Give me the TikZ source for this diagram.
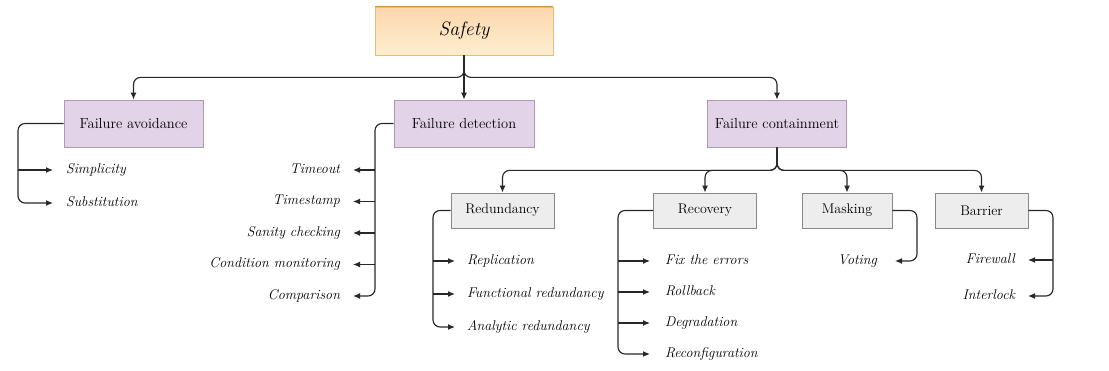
\documentclass[tikz,border=0pt]{standalone}
\usetikzlibrary{arrows.meta,calc}

\definecolor{lineink}{RGB}{40,40,40}
\definecolor{purplefill}{RGB}{226,211,232}
\definecolor{purpleedge}{RGB}{170,155,176}
\definecolor{grayfill}{RGB}{237,237,237}
\definecolor{grayedge}{RGB}{135,135,135}
\definecolor{safetytop}{RGB}{253,214,172}
\definecolor{safetybottom}{RGB}{253,238,208}
\definecolor{safetyedge}{RGB}{228,190,120}
\definecolor{safetyrim}{RGB}{212,158,40}

\begin{document}
\begin{tikzpicture}[x=1pt,y=-1pt,
  maintxt/.style={font=\fontsize{14.5}{17}\selectfont},
  subtxt/.style={font=\fontsize{14}{16}\selectfont},
  safetybox/.style={draw=safetyedge, line width=0.8pt, top color=safetytop, bottom color=safetybottom,
    minimum width=178pt, minimum height=48pt, inner sep=0pt, font=\fontsize{19.5}{22}\selectfont\itshape},
  mainbox/.style={maintxt, draw=purpleedge, fill=purplefill, line width=0.8pt,
    minimum width=139pt, minimum height=47pt, inner sep=0pt},
  subbox/.style={subtxt, draw=grayedge, fill=grayfill, line width=0.9pt,
    minimum height=35pt, inner sep=0pt},
  leafL/.style={font=\fontsize{14.1}{16}\selectfont\itshape, anchor=west, inner sep=0pt,
    text height=9.5pt, text depth=3pt, outer xsep=13pt},
  leafR/.style={leafL, anchor=east},
  link/.style={draw=lineink, line width=1.15pt, rounded corners=7pt,
    -{Latex[length=7pt,width=6pt]}}
]
\useasboundingbox (0,0) rectangle (1109,371);

% root
\node[safetybox] (safety) at (464,31) {Safety};
\draw[safetyrim, line width=1.6pt] (safety.north west) -- (safety.north east);

% first level
\node[mainbox] (fa) at (133.5,123.5) {Failure avoidance};
\node[mainbox, minimum width=140pt] (fd) at (464,123.5) {Failure detection};
\node[mainbox] (fc) at (777,123.5) {Failure containment};

\draw[link] (safety.south) -- ++(0,22) -| (fa.north);
\draw[link] (safety.south) -- (fd.north);
\draw[link] (safety.south) -- ++(0,22) -| (fc.north);

% second level under containment
\node[subbox, minimum width=103pt] (red) at (502.5,210.5) {Redundancy};
\node[subbox, minimum width=103pt] (rec) at (705,210.5) {Recovery};
\node[subbox, minimum width=90pt] (mask) at (847,210.5) {Masking};
\node[subbox, minimum width=93pt] (bar) at (981.5,210.5) {Barrier};

\foreach \c in {red,rec,mask,bar}
  \draw[link] (fc.south) -- ++(0,23) -| (\c.north);

% rails of the leaf lists
\coordinate (faRail) at (18,0);
\coordinate (fdRail) at (375,0);
\coordinate (redRail) at (433,0);
\coordinate (recRail) at (618,0);
\coordinate (maskRail) at (917,0);
\coordinate (barRail) at (1053,0);

% avoidance leaves
\node[leafL] (simp) at (53,170) {Simplicity};
\node[leafL] (subst) at (53,203) {Substitution};
\draw[link] (fa.west) -- (faRail |- fa.west) |- (subst.west);
\draw[link] (faRail |- simp.west) -- (simp.west);

% detection leaves
\node[leafR] (tout) at (353,170) {Timeout};
\node[leafR] (tstamp) at (353,201.5) {Timestamp};
\node[leafR] (sanity) at (353,233) {Sanity checking};
\node[leafR] (cond) at (353,264.5) {Condition monitoring};
\node[leafR] (comp) at (353,296) {Comparison};
\draw[link] (fd.west) -- (fdRail |- fd.west) |- (comp.east);
\foreach \l in {tout,tstamp,sanity,cond}
  \draw[link] (fdRail |- \l.east) -- (\l.east);

% redundancy leaves
\node[leafL, outer xsep=12pt] (repl) at (455,261) {Replication};
\node[leafL, outer xsep=12pt] (func) at (455,294) {Functional redundancy};
\node[leafL, outer xsep=12pt] (anal) at (455,327) {Analytic redundancy};
\draw[link] (red.west) -- (redRail |- red.west) |- (anal.west);
\foreach \l in {repl,func}
  \draw[link] (redRail |- \l.west) -- (\l.west);

% recovery leaves
\node[leafL, outer xsep=15pt] (fix) at (650,261) {Fix the errors};
\node[leafL, outer xsep=15pt] (roll) at (650,292) {Rollback};
\node[leafL, outer xsep=15pt] (degr) at (650,323) {Degradation};
\node[leafL, outer xsep=15pt] (reconf) at (650,354) {Reconfiguration};
\draw[link] (rec.west) -- (recRail |- rec.west) |- (reconf.west);
\foreach \l in {fix,roll,degr}
  \draw[link] (recRail |- \l.west) -- (\l.west);

% masking leaf
\node[leafR, outer xsep=18pt] (vote) at (895,261) {Voting};
\draw[link] (mask.east) -- (maskRail |- mask.east) |- (vote.east);

% barrier leaves
\node[leafR] (fire) at (1028,260) {Firewall};
\node[leafR] (inter) at (1028,296) {Interlock};
\draw[link] (bar.east) -- (barRail |- bar.east) |- (inter.east);
\draw[link] (barRail |- fire.east) -- (fire.east);
\end{tikzpicture}
\end{document}
